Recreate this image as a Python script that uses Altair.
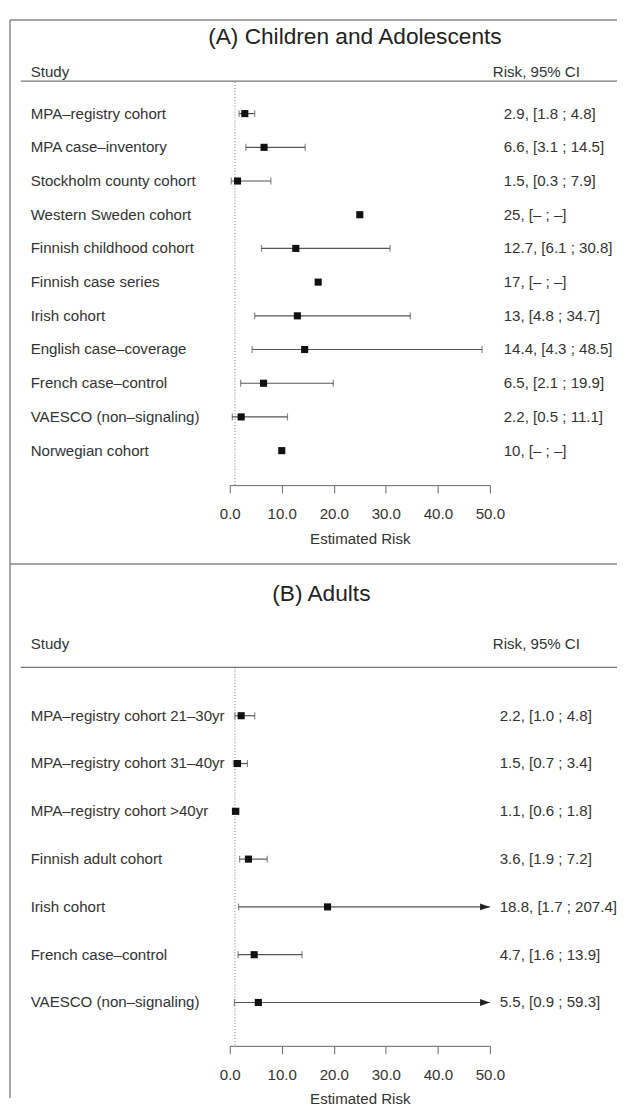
import altair as alt
import pandas as pd

FONT = "Liberation Sans"
X_TICKS = [0, 10, 20, 30, 40, 50]
X_DOMAIN = [0, 50]
REF_VALUE = [1.0]
HEADERS = ["Study", "Risk, 95% CI"]
AXIS_TITLE = "Estimated Risk"

# ---- Panel A: Children and Adolescents ----
a_title = "(A) Children and Adolescents"
a_study = [
    "MPA–registry cohort", "MPA case–inventory", "Stockholm county cohort",
    "Western Sweden cohort", "Finnish childhood cohort", "Finnish case series",
    "Irish cohort", "English case–coverage", "French case–control",
    "VAESCO (non–signaling)", "Norwegian cohort",
]
a_risk = [2.9, 6.6, 1.5, 25, 12.7, 17, 13, 14.4, 6.5, 2.2, 10]
a_lower = [1.8, 3.1, 0.3, None, 6.1, None, 4.8, 4.3, 2.1, 0.5, None]
a_upper = [4.8, 14.5, 7.9, None, 30.8, None, 34.7, 48.5, 19.9, 11.1, None]
a_label = [
    "2.9, [1.8 ; 4.8]", "6.6, [3.1 ; 14.5]", "1.5, [0.3 ; 7.9]", "25, [– ; –]",
    "12.7, [6.1 ; 30.8]", "17, [– ; –]", "13, [4.8 ; 34.7]", "14.4, [4.3 ; 48.5]",
    "6.5, [2.1 ; 19.9]", "2.2, [0.5 ; 11.1]", "10, [– ; –]",
]

# ---- Panel B: Adults ----
b_title = "(B) Adults"
b_study = [
    "MPA–registry cohort 21–30yr", "MPA–registry cohort 31–40yr",
    "MPA–registry cohort >40yr", "Finnish adult cohort", "Irish cohort",
    "French case–control", "VAESCO (non–signaling)",
]
b_risk = [2.2, 1.5, 1.1, 3.6, 18.8, 4.7, 5.5]
b_lower = [1.0, 0.7, 0.6, 1.9, 1.7, 1.6, 0.9]
b_upper = [4.8, 3.4, 1.8, 7.2, 207.4, 13.9, 59.3]
b_label = [
    "2.2, [1.0 ; 4.8]", "1.5, [0.7 ; 3.4]", "1.1, [0.6 ; 1.8]", "3.6, [1.9 ; 7.2]",
    "18.8, [1.7 ; 207.4]", "4.7, [1.6 ; 13.9]", "5.5, [0.9 ; 59.3]",
]

W = 618
FS = 15.3
LAYOUT_A = dict(h=476, y0=99, y1=441, title_x=352, title_y=21, head_y=57,
                line_y=66, dot_y0=67, val_x=503, border_top=4, border_bot=556,
                title_pad=10)
LAYOUT_B = dict(h=489, y0=154, y1=445, title_x=318, title_y=31, head_y=81,
                line_y=105, dot_y0=106, val_x=499, border_top=0, border_bot=542,
                title_pad=9)

TEXT_COLOR = "#333333"
LINE_COLOR = "#555555"
BORDER_COLOR = "#8a8a8a"


def panel(study, risk, lower, upper, label, title, L):
    df = pd.DataFrame({"study": study, "risk": risk, "lower": lower,
                       "upper": upper, "label": label})
    df["upper_clip"] = df["upper"].clip(upper=X_DOMAIN[1])
    ci = df[df["lower"].notna()]
    caps_r = ci[ci["upper"] <= X_DOMAIN[1]]
    arrows = ci[ci["upper"] > X_DOMAIN[1]]

    xs = alt.Scale(domain=X_DOMAIN, range=[225, 489], nice=False, zero=False)
    ys = alt.Scale(type="point", domain=study, range=[L["y0"], L["y1"]], padding=0)
    xaxis = alt.Axis(values=X_TICKS, format=".1f", title=AXIS_TITLE, grid=False,
                     domainColor="#666666", tickColor="#666666", tickSize=8,
                     labelFont=FONT, labelFontSize=FS, labelColor=TEXT_COLOR,
                     labelPadding=14, labelFlush=False, labelOverlap=False,
                     titleFont=FONT, titleFontSize=FS, titleFontWeight="normal",
                     titleColor=TEXT_COLOR, titlePadding=L["title_pad"])

    def X(f):
        return alt.X(f, scale=xs, axis=xaxis)

    Y = alt.Y("study:N", scale=ys, axis=None, sort=study)

    ref = alt.Chart(pd.DataFrame({"ref": REF_VALUE})).mark_rule(
        color="#777777", strokeDash=[1, 2], strokeWidth=1
    ).encode(x=X("ref:Q"), y=alt.value(L["dot_y0"]), y2=alt.value(L["h"]))

    lines = alt.Chart(ci).mark_rule(color=LINE_COLOR, strokeWidth=1.2).encode(
        x=X("lower:Q"), x2="upper_clip:Q", y=Y)
    cap_l = alt.Chart(ci).mark_tick(color=LINE_COLOR, size=7, thickness=1.2,
                                    orient="vertical").encode(x=X("lower:Q"), y=Y)
    cap_r = alt.Chart(caps_r).mark_tick(color=LINE_COLOR, size=7, thickness=1.2,
                                        orient="vertical").encode(x=X("upper:Q"), y=Y)
    arr = alt.Chart(arrows).mark_point(
        shape="M-1,-0.7L1,0L-1,0.7Z", filled=True, size=100, opacity=1,
        color="#222222", xOffset=-5
    ).encode(x=X("upper_clip:Q"), y=Y)
    sq = alt.Chart(df).mark_square(size=52, color="#111111", opacity=1).encode(
        x=X("risk:Q"), y=Y)

    names = alt.Chart(df).mark_text(align="left", baseline="middle", font=FONT,
                                    fontSize=FS, color=TEXT_COLOR).encode(
        x=alt.value(23), y=Y, text="study:N")
    vals = alt.Chart(df).mark_text(align="left", baseline="middle", font=FONT,
                                   fontSize=FS, color=TEXT_COLOR).encode(
        x=alt.value(L["val_x"]), y=Y, text="label:N")

    ttl = alt.Chart(pd.DataFrame({"t": [title]})).mark_text(
        align="center", baseline="middle", font=FONT, fontSize=23, color="#222222"
    ).encode(x=alt.value(L["title_x"]), y=alt.value(L["title_y"]), text="t:N")
    h1 = alt.Chart(pd.DataFrame({"t": [HEADERS[0]]})).mark_text(
        align="left", baseline="middle", font=FONT, fontSize=FS, color=TEXT_COLOR
    ).encode(x=alt.value(23), y=alt.value(L["head_y"]), text="t:N")
    h2 = alt.Chart(pd.DataFrame({"t": [HEADERS[1]]})).mark_text(
        align="left", baseline="middle", font=FONT, fontSize=FS, color=TEXT_COLOR
    ).encode(x=alt.value(492), y=alt.value(L["head_y"]), text="t:N")

    one = pd.DataFrame({"k": [0]})
    hline = alt.Chart(one).mark_rule(color="#777777", strokeWidth=1.2).encode(
        x=alt.value(13), x2=alt.value(W), y=alt.value(L["line_y"]))
    btop = alt.Chart(one).mark_rule(color=BORDER_COLOR, strokeWidth=1.5).encode(
        x=alt.value(2), x2=alt.value(W), y=alt.value(L["border_top"]))
    bleft = alt.Chart(one).mark_rule(color=BORDER_COLOR, strokeWidth=1.5).encode(
        x=alt.value(2), y=alt.value(L["border_top"]), y2=alt.value(L["border_bot"]))

    return alt.layer(ref, lines, cap_l, cap_r, arr, sq, names, vals, ttl, h1, h2,
                     hline, btop, bleft).properties(width=W, height=L["h"])


chart_a = panel(a_study, a_risk, a_lower, a_upper, a_label, a_title, LAYOUT_A)
chart_b = panel(b_study, b_risk, b_lower, b_upper, b_label, b_title, LAYOUT_B)

chart = alt.vconcat(chart_a, chart_b, spacing=80, bounds="flush").properties(
    padding=0, background="white"
).configure_view(stroke=None)

chart.save("out.html", embed_options={"renderer": "svg", "actions": False})
